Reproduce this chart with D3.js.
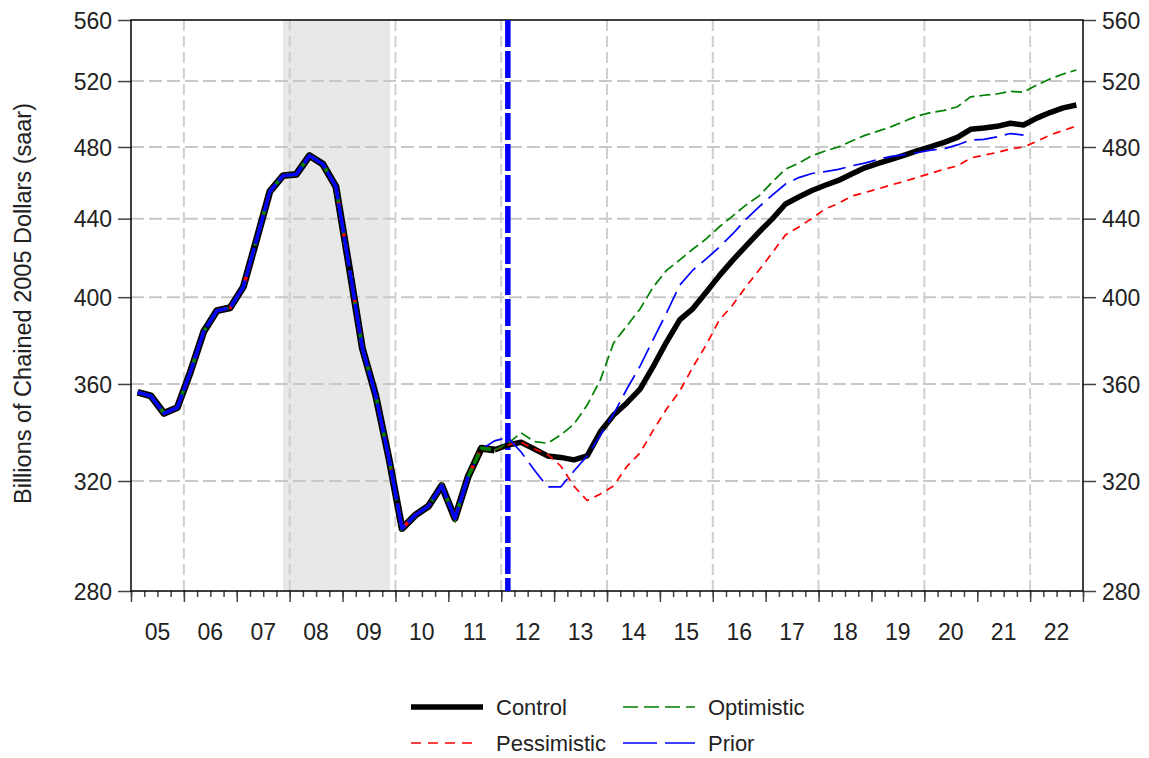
<!DOCTYPE html>
<html><head><meta charset="utf-8">
<script src="https://cdn.jsdelivr.net/npm/d3@7"></script>
<style>
body{margin:0;background:#fff;}
text{font-family:"Liberation Sans",Arial,sans-serif;fill:#222;}
</style>
</head><body>
<svg id="c" width="1149" height="758"></svg>
<script>
// ---------------- DATA ----------------
const yTicks = [280, 320, 360, 400, 440, 480, 520, 560];
const yearLabels = ["05","06","07","08","09","10","11","12","13","14","15","16","17","18","19","20","21","22"];
const firstYear = 2005;
const gridYears = [2006, 2008, 2010, 2012, 2014, 2016, 2018, 2020, 2022];
const recession = [2007.875, 2009.9];
const forecastStart = 2012.125;

// History 2005Q1..2011Q4 (shared by all scenarios)
const history = [356.4, 354.8, 347.4, 349.8, 365.4, 383.6, 393.5, 394.9,
  405.1, 429.0, 454.7, 463.6, 464.3, 475.0, 470.2, 457.4,
  415.0, 375.9, 355.2, 329.1, 302.1, 307.0, 310.4, 318.2,
  305.8, 321.7, 333.0, 332.3];

// 2012Q1..2022Q4
const control = [334.3, 335.4, 332.7, 329.9, 329.3, 328.3, 329.9, 339.7,
  346.7, 351.8, 357.8, 367.8, 378.8, 389.1, 394.5, 402.4,
  410.6, 418.3, 425.6, 432.9, 439.9, 447.9, 451.7, 455.3,
  458.2, 460.9, 464.5, 468.0, 470.5, 472.8, 475.3, 477.9,
  480.2, 482.7, 485.6, 490.4, 491.2, 492.2, 494.0, 493.0,
  497.1, 500.5, 503.3, 505.1];
const optimistic = [334.8, 339.3, 335.7, 335.0, 338.4, 342.9, 350.9, 361.8,
  378.4, 386.3, 394.3, 405.0, 413.2, 418.5, 424.1, 429.3,
  435.7, 441.4, 447.3, 452.3, 460.0, 467.3, 470.7, 474.9,
  477.7, 480.0, 483.5, 486.8, 489.3, 492.0, 495.3, 498.5,
  500.5, 501.8, 504.0, 510.1, 511.1, 511.9, 513.6, 513.0,
  517.5, 521.3, 524.5, 527.0];
const pessimistic = [334.3, 335.4, 332.7, 330.5, 325.9, 318.0, 312.5, 315.0,
  318.1, 325.7, 331.1, 340.4, 349.2, 356.9, 367.5, 377.5,
  389.1, 396.2, 405.0, 413.4, 422.1, 431.4, 435.6, 440.1,
  445.2, 448.2, 452.2, 454.2, 456.2, 458.4, 460.4, 462.7,
  464.9, 467.2, 469.1, 473.6, 475.3, 476.8, 478.8, 480.0,
  483.2, 487.0, 489.7, 492.4];
// Prior vintage: 2011Q3..2021Q4
const prior = [332.5, 336.0, 337.4, 331.5, 324.3, 317.7, 317.7, 323.9,
  329.9, 338.4, 347.1, 357.8, 367.9, 380.0, 392.4, 405.9,
  413.4, 419.0, 425.1, 431.9, 439.6, 446.3, 452.8, 458.9,
  462.5, 464.8, 465.9, 467.1, 469.1, 470.7, 472.8, 474.6,
  475.6, 476.8, 478.2, 479.0, 481.2, 484.1, 484.5, 485.9,
  487.9, 487.0];

const legendItems = [
  {name: "Control", key: "control"},
  {name: "Optimistic", key: "optimistic"},
  {name: "Pessimistic", key: "pessimistic"},
  {name: "Prior", key: "prior"}
];

// ---------------- LAYOUT ----------------
const L = 131, R = 1083, T = 20, B = 591;
const x = d3.scaleLinear().domain([firstYear, firstYear + yearLabels.length]).range([L, R]);
const y = d3.scaleLog().domain([280, 560]).range([B, T]);
const tq = i => firstYear + (i + 0.5) / 4;

const series = {
  control: history.concat(control).map((v, i) => ({t: tq(i), v})),
  optimistic: history.concat(optimistic).map((v, i) => ({t: tq(i), v})),
  pessimistic: history.concat(pessimistic).map((v, i) => ({t: tq(i), v})),
  prior: history.slice(0, 26).concat(prior).map((v, i) => ({t: tq(i), v}))
};
const histN = history.length; // 28

const svg = d3.select("#c");
const line = d3.line().x(d => x(d.t)).y(d => y(d.v));

// recession shading
svg.append("rect").attr("x", x(recession[0])).attr("y", T)
  .attr("width", x(recession[1]) - x(recession[0])).attr("height", B - T)
  .attr("fill", "#e8e8e8");

// grid
svg.append("g").selectAll("line").data(yTicks.slice(1, -1)).join("line")
  .attr("x1", L).attr("x2", R).attr("y1", d => y(d)).attr("y2", d => y(d))
  .attr("stroke", "#c8c8c8").attr("stroke-width", 2).attr("stroke-dasharray", "13,5");
svg.append("g").selectAll("line").data(gridYears).join("line")
  .attr("x1", d => x(d)).attr("x2", d => x(d)).attr("y1", T).attr("y2", B)
  .attr("stroke", "#cfcfcf").attr("stroke-width", 2).attr("stroke-dasharray", "11,5");

// axes
const quarters = d3.range(0, yearLabels.length * 4 + 1).map(i => firstYear + i / 4);
const years = d3.range(0, yearLabels.length + 1).map(i => firstYear + i);
const axisStyle = g => { g.selectAll("path").remove(); g.selectAll("line").attr("stroke", "#444").attr("stroke-width", 1.5); };

svg.append("g").attr("transform", `translate(0,${B})`)
  .call(d3.axisBottom(x).tickValues(quarters).tickSize(6).tickFormat(""))
  .call(axisStyle);
svg.append("g").attr("transform", `translate(0,${B})`)
  .call(d3.axisBottom(x).tickValues(years).tickSize(11).tickFormat(""))
  .call(axisStyle);
svg.append("g").selectAll("text").data(yearLabels).join("text")
  .attr("x", (d, i) => x(firstYear + i + 0.5)).attr("y", 640)
  .attr("text-anchor", "middle").attr("font-size", 23).text(d => d);

svg.append("g").attr("transform", `translate(${L},0)`)
  .call(d3.axisLeft(y).tickValues(yTicks).tickSize(13).tickPadding(6).tickFormat(d3.format("d")))
  .call(axisStyle)
  .call(g => g.selectAll("text").attr("font-size", 23).attr("fill", "#222").attr("font-family", null).attr("dy", "0.36em"));
svg.append("g").attr("transform", `translate(${R},0)`)
  .call(d3.axisRight(y).tickValues(yTicks).tickSize(13).tickPadding(6).tickFormat(d3.format("d")))
  .call(axisStyle)
  .call(g => g.selectAll("text").attr("font-size", 23).attr("fill", "#222").attr("font-family", null).attr("dy", "0.36em"));

// frame
svg.append("rect").attr("x", L).attr("y", T).attr("width", R - L).attr("height", B - T)
  .attr("fill", "none").attr("stroke", "#000").attr("stroke-width", 1.5);

// y title
svg.append("text").attr("transform", `translate(31,${(T + B) / 2 - 2}) rotate(-90)`)
  .attr("text-anchor", "middle").attr("font-size", 23.5)
  .text("Billions of Chained 2005 Dollars (saar)");

// forecast start line
svg.append("line").attr("x1", x(forecastStart)).attr("x2", x(forecastStart))
  .attr("y1", T).attr("y2", B).attr("stroke", "#0000ff").attr("stroke-width", 5.5)
  .attr("stroke-dasharray", "27,4");

// series drawing
const plot = svg.append("g");
// history outline
plot.append("path").datum(series.control.slice(0, histN)).attr("d", line)
  .attr("fill", "none").attr("stroke", "#000").attr("stroke-width", 7).attr("stroke-linejoin", "round");
// control forecast
plot.append("path").datum(series.control.slice(histN - 1)).attr("d", line)
  .attr("fill", "none").attr("stroke", "#000").attr("stroke-width", 5.5).attr("stroke-linejoin", "round");
plot.append("path").datum(series.pessimistic.slice(histN - 1)).attr("d", line)
  .attr("fill", "none").attr("stroke", "#ff0000").attr("stroke-width", 1.7).attr("stroke-dasharray", "8,6");
plot.append("path").datum(series.optimistic.slice(histN - 1)).attr("d", line)
  .attr("fill", "none").attr("stroke", "#008000").attr("stroke-width", 1.7).attr("stroke-dasharray", "11,5");
plot.append("path").datum(series.prior.slice(25)).attr("d", line)
  .attr("fill", "none").attr("stroke", "#0000ff").attr("stroke-width", 1.7).attr("stroke-dasharray", "23,8");
// history colored overlays
plot.append("path").datum(series.pessimistic.slice(0, histN)).attr("d", line)
  .attr("fill", "none").attr("stroke", "#ff0000").attr("stroke-width", 3.5).attr("stroke-dasharray", "8,6");
plot.append("path").datum(series.optimistic.slice(0, histN)).attr("d", line)
  .attr("fill", "none").attr("stroke", "#008000").attr("stroke-width", 3.5).attr("stroke-dasharray", "11,5").attr("stroke-dashoffset", 4);
plot.append("path").datum(series.prior.slice(0, 26)).attr("d", line)
  .attr("fill", "none").attr("stroke", "#0000ff").attr("stroke-width", 3.5).attr("stroke-dasharray", "30,4").attr("stroke-linejoin", "round");

// legend
const legStyle = {
  control: {color: "#000", w: 5.5, dash: null, len: 72},
  optimistic: {color: "#008000", w: 1.7, dash: "15,6", len: 72},
  pessimistic: {color: "#ff0000", w: 1.7, dash: "10,7", len: 64},
  prior: {color: "#0000ff", w: 1.7, dash: "34,8", len: 72}
};
const leg = svg.append("g");
legendItems.forEach((it, i) => {
  const col = i % 2, row = Math.floor(i / 2);
  const lx = 411 + col * 212, ly = 707 + row * 36;
  const s = legStyle[it.key];
  leg.append("line").attr("x1", lx).attr("x2", lx + s.len).attr("y1", ly).attr("y2", ly)
    .attr("stroke", s.color).attr("stroke-width", s.w).attr("stroke-dasharray", s.dash);
  leg.append("text").attr("x", lx + 85).attr("y", ly).attr("dy", "0.36em")
    .attr("font-size", 22).text(it.name);
});
</script>
</body></html>
